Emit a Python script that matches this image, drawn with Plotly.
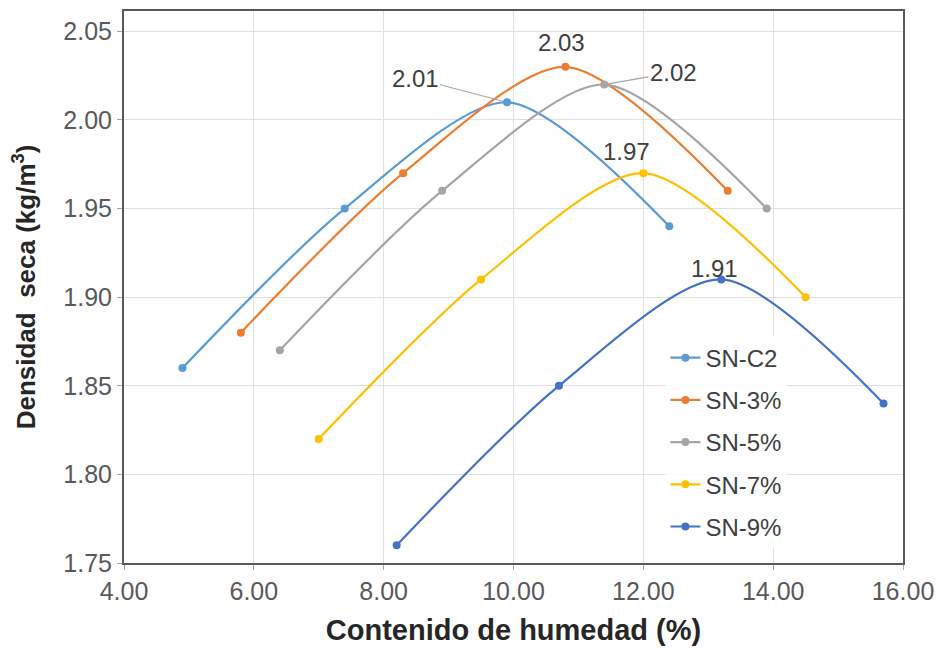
import plotly.graph_objects as go

series_names = ["SN-C2", "SN-3%", "SN-5%", "SN-7%", "SN-9%"]
humedad = {
    "SN-C2": [4.9, 7.4, 9.9, 12.4],
    "SN-3%": [5.8, 8.3, 10.8, 13.3],
    "SN-5%": [6.4, 8.9, 11.4, 13.9],
    "SN-7%": [7.0, 9.5, 12.0, 14.5],
    "SN-9%": [8.2, 10.7, 13.2, 15.7],
}
densidad = {
    "SN-C2": [1.86, 1.95, 2.01, 1.94],
    "SN-3%": [1.88, 1.97, 2.03, 1.96],
    "SN-5%": [1.87, 1.96, 2.02, 1.95],
    "SN-7%": [1.82, 1.91, 1.97, 1.90],
    "SN-9%": [1.76, 1.85, 1.91, 1.84],
}
colors = ["#5B9BD5", "#ED7D31", "#A5A5A5", "#FFC000", "#4472C4"]

# peak labels: (series, point index, text)
peak_labels = [
    ("SN-C2", 2, "2.01"),
    ("SN-3%", 2, "2.03"),
    ("SN-5%", 2, "2.02"),
    ("SN-7%", 2, "1.97"),
    ("SN-9%", 2, "1.91"),
]
x_ticks = [4, 6, 8, 10, 12, 14, 16]
y_ticks = [1.75, 1.80, 1.85, 1.90, 1.95, 2.00, 2.05]

FONT = "Liberation Sans, Arial, sans-serif"

fig = go.Figure()
for name, c in zip(series_names, colors):
    fig.add_trace(go.Scatter(
        x=humedad[name], y=densidad[name], name=name, legendgroup=name,
        mode="lines+markers",
        line=dict(color=c, width=2.2, shape="spline", smoothing=0.8),
        marker=dict(color=c, size=8, symbol="circle"),
    ))

label_style = {
    "SN-C2": dict(showarrow=True, ax=-92, ay=-24),
    "SN-3%": dict(showarrow=False, yshift=24, xshift=-4),
    "SN-5%": dict(showarrow=True, ax=69, ay=-12),
    "SN-7%": dict(showarrow=False, yshift=22, xshift=-17),
    "SN-9%": dict(showarrow=False, yshift=11, xshift=-7),
}
for name, idx, txt in peak_labels:
    st = label_style[name]
    kw = dict(x=humedad[name][idx], y=densidad[name][idx], text=txt,
              font=dict(family=FONT, size=24, color="#404040"))
    if st.get("showarrow"):
        kw.update(showarrow=True, ax=st["ax"], ay=st["ay"], arrowhead=0,
                  arrowwidth=1.2, arrowcolor="#A6A6A6", standoff=4)
    else:
        kw.update(showarrow=False, yshift=st.get("yshift", 0), xshift=st.get("xshift", 0))
    fig.add_annotation(**kw)

fig.update_layout(
    width=946, height=651,
    margin=dict(l=116, r=51, t=3, b=96, autoexpand=False),
    paper_bgcolor="white", plot_bgcolor="white",
    font=dict(family=FONT, size=24, color="#404040"),
    showlegend=True,
    legend=dict(x=0.695, y=0.412, xanchor="left", yanchor="top",
                bgcolor="rgba(255,255,255,0.85)",
                font=dict(family=FONT, size=24, color="#404040"),
                traceorder="grouped", tracegroupgap=8),
    xaxis=dict(
        range=[4, 16], tickvals=x_ticks, tickformat=".2f", automargin=False,
        showgrid=True, gridcolor="#E0E0E0", gridwidth=1,
        showline=True, linecolor="#595959", linewidth=2, mirror=True,
        ticks="outside", ticklen=5, tickcolor="#A6A6A6",
        tickfont=dict(size=25, color="#595959"),
        title=dict(text="<b>Contenido de humedad (%)</b>", font=dict(size=29, color="#262626"), standoff=16),
        zeroline=False,
    ),
    yaxis=dict(
        range=[1.75, 2.0615], tickvals=y_ticks, tickformat=".2f", automargin=False,
        showgrid=True, gridcolor="#E0E0E0", gridwidth=1,
        showline=True, linecolor="#595959", linewidth=2, mirror=True,
        ticks="outside", ticklen=5, tickcolor="#A6A6A6",
        tickfont=dict(size=25, color="#595959"),
        title=dict(text="<b>Densidad  seca (kg/m<sup>3</sup>)</b>", font=dict(size=26, color="#262626"), standoff=28),
        zeroline=False,
    ),
)

fig.write_html("out.html")
